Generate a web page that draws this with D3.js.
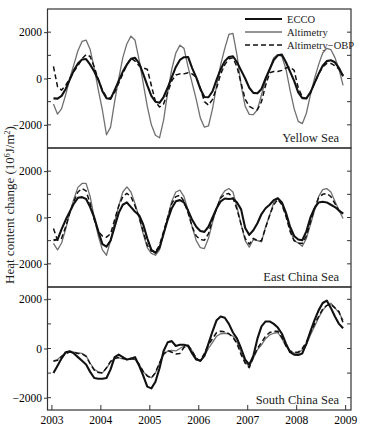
<!DOCTYPE html>
<html>
<head>
<meta charset="utf-8">
<script src="https://cdn.jsdelivr.net/npm/d3@7"></script>
<style>
  body { margin: 0; background: #fff; }
  svg { display: block; }
  svg text { font-family: "Liberation Serif", "DejaVu Serif", serif; }
</style>
</head>
<body>
<svg id="chart"></svg>
<script>
const width = 370, height = 431;
const marginLeft = 47.5, marginRight = 351;

// years on the x axis, data are monthly means Jan 2003 .. Dec 2008
const yearTicks = [2003, 2004, 2005, 2006, 2007, 2008, 2009];
const months = d3.range(72).map(i => 2003 + (i + 0.5) / 12);

const seriesNames = ['ECCO', 'Altimetry', 'Altimetry\u2212OBP'];
const regionNames = ['Yellow Sea', 'East China Sea', 'South China Sea'];

// Yellow Sea
const ysEcco = [
  -860, -870, -750, -450, -50, 350, 650, 820, 840, 600, 300, -50,
  -550, -850, -880, -500, -100, 300, 600, 850, 890, 650, 200, -300,
  -750, -1000, -1050, -800, -400, 50, 500, 800, 920, 930, 450, 50,
  -450, -800, -810, -550, -50, 400, 750, 930, 960, 700, 350, 0,
  -400, -620, -640, -450, 0, 400, 800, 1000, 1030, 700, 300, -100,
  -600, -850, -860, -600, -200, 200, 550, 750, 790, 700, 450, 100
];
const ysAlt = [
  -1100, -1540, -1300, -700, 0, 600, 1200, 1600, 1660, 1250, 450, -500,
  -1370, -2430, -2100, -1000, 0, 900, 1500, 1830, 1650, 800, -200, -1200,
  -2000, -2450, -2560, -1800, -600, 400, 1100, 1440, 1300, 500, -200, -900,
  -1700, -2100, -2050, -1300, -300, 600, 1300, 1900, 1950, 1000, -300, -1200,
  -1550, -1560, -1350, -700, -100, 400, 900, 1030, 950, 400, -500, -1300,
  -1850, -1950, -1500, -700, 0, 600, 1100, 1300, 1250, 900, 400, -300
];
const ysObp = [
  520, -350, -500, -300, 0, 300, 550, 850, 1030, 950, 500, -50,
  -500, -800, -860, -600, -200, 200, 600, 880, 750, 550, 450, 400,
  -300, -1000, -1230, -1100, -600, -100, 150, 200, 200, 250, 200, 50,
  -400, -1000, -1150, -900, -400, 200, 600, 850, 890, 500, -200, -900,
  -1200, -1300, -1350, -1000, -300, 250, 300, 300, 350, 450, 500, 350,
  -400, -800, -870, -600, -200, 200, 500, 650, 650, 550, 400, 150
];

// East China Sea
const ecEcco = [
  -980, -950, -500, -100, 250, 600, 850, 880, 800, 450, 0, -600,
  -1150, -1260, -1000, -400, 200, 550, 650, 450, 250, 100, -300, -900,
  -1400, -1530, -1300, -700, -100, 400, 700, 750, 650, 300, -100, -400,
  -580, -620, -400, 0, 400, 700, 820, 800, 820, 650, 350, -450,
  -750, -550, -250, 150, 400, 550, 750, 830, 650, 200, -400, -800,
  -950, -980, -600, 0, 400, 650, 680, 650, 550, 450, 300, 170
];
const ecAlt = [
  -1120, -1400, -1100, -500, 200, 800, 1300, 1470, 1470, 900, 0, -800,
  -1400, -1630, -1000, -200, 500, 1100, 1320, 1100, 600, 0, -700, -1300,
  -1550, -1630, -1400, -700, 0, 700, 1100, 1180, 900, 300, -400, -1000,
  -1300, -1340, -900, -200, 400, 900, 1150, 1250, 1100, 450, -300, -1000,
  -1280, -950, -1000, -1050, -400, 100, 650, 830, 600, 100, -500, -1000,
  -1100, -1240, -900, -300, 300, 900, 1200, 1250, 1100, 700, 300, -40
];
const ecObp = [
  -480, -980, -900, -400, 200, 700, 1100, 1250, 1150, 600, -100, -600,
  -800, -850, -700, -100, 500, 900, 1040, 900, 500, 0, -600, -1200,
  -1450, -1480, -1200, -600, 0, 600, 900, 960, 700, 200, -400, -800,
  -950, -980, -700, -100, 400, 850, 1000, 1040, 850, 350, -300, -900,
  -1150, -900, -1000, -1000, -450, 100, 550, 780, 550, 50, -600, -1000,
  -1100, -1120, -800, -200, 400, 850, 1000, 1040, 900, 600, 300, 170
];

// South China Sea
const scEcco = [
  -1000, -700, -400, -150, -110, -200, -350, -500, -650, -950, -1200, -1230,
  -1230, -1200, -850, -350, -250, -350, -450, -420, -350, -700, -1100, -1550,
  -1620, -1350, -800, -100, 250, 300, 100, 150, 150, 100, -200, -450,
  -500, -300, 200, 700, 1150, 1300, 1250, 1000, 650, 400, 0, -450,
  -660, -300, 400, 900, 1100, 1100, 1000, 850, 600, 200, -150, -250,
  -260, -200, 200, 700, 1150, 1550, 1850, 1950, 1650, 1300, 1000, 820
];
const scAlt = [
  -500, -450, -300, -200, -120, -150, -180, -200, -300, -600, -850, -950,
  -990, -800, -550, -420, -380, -420, -450, -420, -450, -650, -950, -1100,
  -1190, -1000, -600, -250, -100, -80, -100, 0, 100, 150, -100, -400,
  -520, -300, 0, 250, 500, 600, 620, 600, 500, 250, -150, -550,
  -730, -400, -50, 150, 400, 550, 620, 650, 400, 100, -120, -190,
  -190, -50, 150, 550, 900, 1250, 1550, 1750, 1840, 1650, 1450, 1150
];
const scObp = [
  -520, -480, -330, -220, -140, -160, -200, -220, -320, -620, -880, -980,
  -1000, -780, -520, -400, -360, -400, -430, -400, -440, -640, -930, -1120,
  -1200, -980, -580, -220, -80, -150, -220, -200, 50, 120, -100, -400,
  -500, -200, 150, 400, 650, 700, 680, 600, 450, 200, -250, -600,
  -780, -350, 0, 250, 500, 650, 700, 700, 450, 100, -100, -150,
  -150, 0, 250, 650, 1000, 1300, 1600, 1750, 1800, 1650, 1500, 1050
];

const panels = [
  { name: regionNames[0], top: 9, bottom: 148, domain: [-3000, 3000], data: [ysEcco, ysAlt, ysObp] },
  { name: regionNames[1], top: 148, bottom: 287, domain: [-3000, 3000], data: [ecEcco, ecAlt, ecObp] },
  { name: regionNames[2], top: 287, bottom: 410, domain: [-2500, 2500], data: [scEcco, scAlt, scObp] }
];

const lineStyles = [
  { stroke: '#111', width: 2.1, dash: null },
  { stroke: '#707070', width: 1.3, dash: null },
  { stroke: '#111', width: 1.5, dash: '5,3' }
];

const svg = d3.select('#chart')
  .attr('width', width)
  .attr('height', height)
  .attr('viewBox', [0, 0, width, height]);

const x = d3.scaleLinear()
  .domain([2002.92, 2009.12])
  .range([marginLeft, marginRight]);

panels.forEach((p, pi) => {
  const y = d3.scaleLinear().domain(p.domain).range([p.bottom, p.top]);
  const g = svg.append('g');

  // left axis: labels on majors, ticks every 1000
  const yTicks = d3.range(-2000, 2001, 1000);
  g.append('g')
    .attr('transform', `translate(${marginLeft},0)`)
    .call(d3.axisLeft(y).tickValues([-2000, 0, 2000]).tickSize(3.5).tickPadding(2).tickFormat(d3.format('d')))
    .call(a => a.select('.domain').remove())
    .call(a => a.selectAll('text').style('font-size', '11.5px'))
    .call(a => a.selectAll('line').attr('stroke', '#333'));

  g.selectAll('.tickIn')
    .data(yTicks)
    .join('line')
    .attr('x1', marginLeft).attr('x2', marginLeft + 3.5)
    .attr('y1', d => y(d)).attr('y2', d => y(d))
    .attr('stroke', '#333');
  g.selectAll('.tickR')
    .data(yTicks)
    .join('line')
    .attr('x1', marginRight).attr('x2', marginRight - 4)
    .attr('y1', d => y(d)).attr('y2', d => y(d))
    .attr('stroke', '#333');

  const line = d3.line()
    .x((d, i) => x(months[i]))
    .y(d => y(d));

  // draw altimetry first, then dashed, then ecco on top
  [1, 2, 0].forEach(si => {
    const st = lineStyles[si];
    g.append('path')
      .datum(p.data[si])
      .attr('d', line)
      .attr('fill', 'none')
      .attr('stroke', st.stroke)
      .attr('stroke-width', st.width)
      .attr('stroke-linejoin', 'round')
      .attr('stroke-dasharray', st.dash);
  });

  g.append('text')
    .attr('x', 339)
    .attr('y', p.bottom - 6)
    .attr('text-anchor', 'end')
    .style('font-size', '12.5px')
    .attr('fill', '#222')
    .text(p.name);

  g.append('rect')
    .attr('x', marginLeft).attr('y', p.top)
    .attr('width', marginRight - marginLeft).attr('height', p.bottom - p.top)
    .attr('fill', 'none')
    .attr('stroke', '#333')
    .attr('stroke-width', 1.2);
});

// bottom axis
svg.append('g')
  .attr('transform', `translate(0,${panels[2].bottom})`)
  .call(d3.axisBottom(x).tickValues(yearTicks).tickSize(-5).tickPadding(6).tickFormat(d3.format('d')))
  .call(a => a.select('.domain').remove())
  .call(a => a.selectAll('text').style('font-size', '11.5px'))
  .call(a => a.selectAll('line').attr('stroke', '#333'));

// legend
const legend = svg.append('g');
seriesNames.forEach((name, i) => {
  const st = lineStyles[i];
  const ly = 19 + i * 13;
  legend.append('line')
    .attr('x1', 245).attr('x2', 282)
    .attr('y1', ly).attr('y2', ly)
    .attr('stroke', st.stroke)
    .attr('stroke-width', st.width)
    .attr('stroke-dasharray', st.dash);
  legend.append('text')
    .attr('x', 287).attr('y', ly)
    .attr('dy', '0.35em')
    .style('font-size', '10.5px')
    .attr('fill', '#222')
    .text(name);
});

// y title
svg.append('text')
  .attr('transform', 'translate(14,205) rotate(-90)')
  .attr('text-anchor', 'middle')
  .style('font-size', '13px')
  .attr('fill', '#222')
  .html('Heat content change (10<tspan baseline-shift="super" font-size="8px">6</tspan>J/m<tspan baseline-shift="super" font-size="8px">2</tspan>)');
</script>
</body>
</html>
